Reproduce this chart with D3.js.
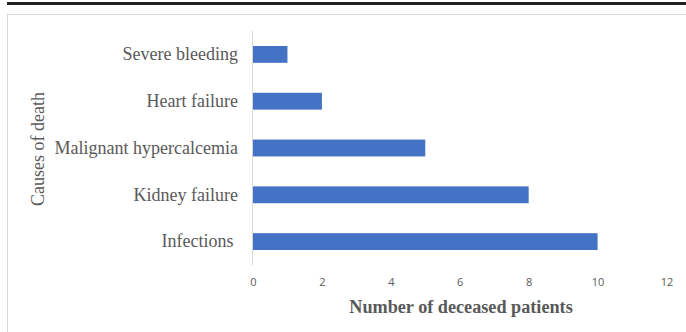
<!DOCTYPE html>
<html>
<head>
<meta charset="utf-8">
<script src="https://cdn.jsdelivr.net/npm/d3@7"></script>
<style>
  html, body { margin: 0; padding: 0; background: #fff; }
  svg { display: block; }
</style>
</head>
<body>
<svg id="chart" width="686" height="332"></svg>
<script>
// Causes of death among deceased patients
const causes = ["Severe bleeding", "Heart failure", "Malignant hypercalcemia", "Kidney failure", "Infections "];
const deceased = [1, 2, 5, 8, 10];
const xTicks = [0, 2, 4, 6, 8, 10, 12];

const svg = d3.select("#chart");
const W = 686, H = 332;
const serif = "'Liberation Serif', 'Times New Roman', serif";

// heavy rule across the top and the chart frame
svg.append("rect").attr("x", 7).attr("y", 2).attr("width", W - 7).attr("height", 3).attr("fill", "#222");
svg.append("rect").attr("x", 7.5).attr("y", 14.5).attr("width", W).attr("height", H)
  .attr("fill", "none").attr("stroke", "#d9d9d9").attr("stroke-width", 1);

const plot = { left: 253, right: 666.5, top: 31, bottom: 265 };

const x = d3.scaleLinear().domain([0, 12]).range([plot.left, plot.right]);
const y = d3.scaleBand().domain(causes).range([plot.top, plot.bottom]).paddingInner(0.64).paddingOuter(0.32);

// bars
svg.append("g").selectAll("rect")
  .data(causes.map((c, i) => ({ cause: c, value: deceased[i] })))
  .join("rect")
  .attr("x", x(0))
  .attr("y", d => y(d.cause))
  .attr("width", d => x(d.value) - x(0))
  .attr("height", y.bandwidth())
  .attr("fill", "#4472C4");

// category axis line
svg.append("line")
  .attr("x1", x(0) - 0.5).attr("x2", x(0) - 0.5)
  .attr("y1", plot.top).attr("y2", plot.bottom)
  .attr("stroke", "#d9d9d9").attr("stroke-width", 1);

// category labels
const yAxis = d3.axisLeft(y).tickSize(0).tickPadding(15);
const gy = svg.append("g").attr("transform", `translate(${x(0)},0)`).call(yAxis);
gy.select(".domain").remove();
gy.selectAll("text")
  .style("white-space", "pre")
  .attr("font-family", serif)
  .attr("font-size", 18)
  .attr("fill", "#595959");

// value axis labels
const xAxis = d3.axisBottom(x).tickValues(xTicks).tickSize(0).tickPadding(0);
const gx = svg.append("g").attr("transform", `translate(0,278)`).call(xAxis);
gx.select(".domain").remove();
gx.selectAll("text")
  .attr("font-family", "'Open Sans', 'Liberation Sans', sans-serif")
  .attr("font-size", 11)
  .attr("fill", "#595959");

// axis titles
svg.append("text")
  .attr("x", 461)
  .attr("y", 313)
  .attr("text-anchor", "middle")
  .attr("font-family", serif)
  .attr("font-weight", "bold")
  .attr("font-size", 18.2)
  .attr("fill", "#595959")
  .text("Number of deceased patients");

svg.append("text")
  .attr("transform", `translate(44,${(plot.top + plot.bottom) / 2 + 1}) rotate(-90)`)
  .attr("text-anchor", "middle")
  .attr("font-family", serif)
  .attr("font-size", 18)
  .attr("fill", "#595959")
  .text("Causes of death");
</script>
</body>
</html>
